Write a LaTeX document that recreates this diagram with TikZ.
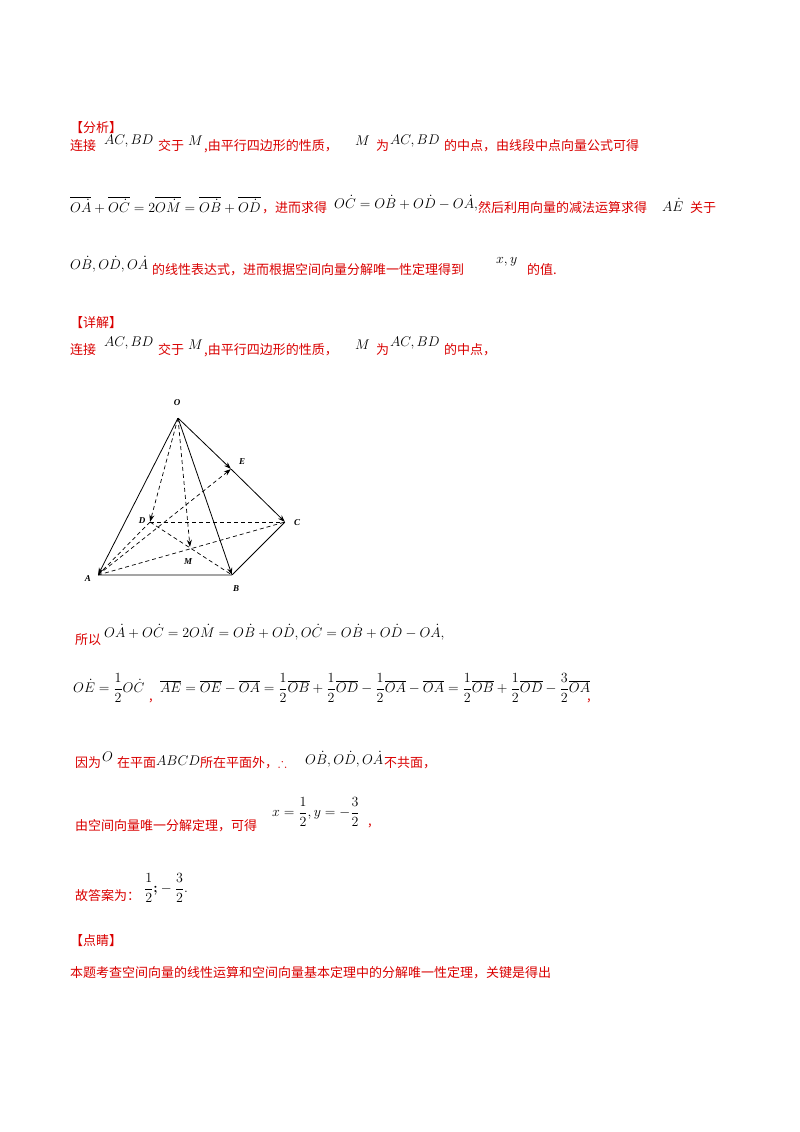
\RequirePackage{fix-cm}
\documentclass[tikz,border=0pt]{standalone}
\usepackage{amsmath,amssymb}
\usepackage{fontspec}
\setmainfont{Liberation Serif}
\newfontfamily\cjk{Noto Sans CJK SC}
\usetikzlibrary{arrows.meta}
\begin{document}
\begin{tikzpicture}[x=1pt,y=-1pt,
  t/.style={anchor=west,inner sep=0pt,text=red!85!black,font=\cjk\fontsize{13}{15}\selectfont},
  m/.style={anchor=west,inner sep=0pt,font=\fontsize{14}{16}\selectfont},
  lab/.style={font=\bfseries\itshape\fontsize{9}{10}\selectfont,inner sep=1pt},
  pt/.style={circle,inner sep=0pt,minimum size=0pt},
  sl/.style={line width=0.8pt},
  dl/.style={line width=0.7pt,dash pattern=on 4pt off 3pt},
  ar/.style={-{Stealth[length=7pt,width=5pt]}}]
\useasboundingbox (0,0) rectangle (800,1132);
\newcommand{\dv}[2]{#1\dot{#2}}
% text
\node[t] (h1) at (70,128) {【分析】};
\node[t] (l1a) at (70,146) {连接};
\node[m] (l1b) at (104,141) {$AC,BD$};
\node[t] (l1c) at (158,146) {交于};
\node[m] (l1d) at (188,141) {$M$};
\node[t] (l1e) at (204,146) {,由平行四边形的性质，};
\node[m] (l1f) at (355,141) {$M$};
\node[t] (l1g) at (376,146) {为};
\node[m] (l1h) at (390,141) {$AC,BD$};
\node[t] (l1i) at (444,146) {的中点，由线段中点向量公式可得};
\node[m] (l2a) at (70,205) {$\overline{\dv OA}+\overline{\dv OC}=2\overline{\dv OM}=\overline{\dv OB}+\overline{\dv OD}$};
\node[t] (l2b) at (262,208) {，进而求得};
\node[m] (l2c) at (334,203) {$\dv OC=\dv OB+\dv OD-\dv OA,$};
\node[t] (l2d) at (478,208) {然后利用向量的减法运算求得};
\node[m] (l2e) at (662,205) {$\dv AE$};
\node[t] (l2f) at (690,208) {关于};
\node[m] (l3a) at (70,264) {$\dv OB,\dv OD,\dv OA$};
\node[t] (l3b) at (152,270) {的线性表达式，进而根据空间向量分解唯一性定理得到};
\node[m] (l3c) at (496,262) {$x,y$};
\node[t] (l3d) at (527,270) {的值.};
\node[t] (h2) at (70,323) {【详解】};
\node[t] (l4a) at (70,350) {连接};
\node[m] (l4b) at (104,343) {$AC,BD$};
\node[t] (l4c) at (158,350) {交于};
\node[m] (l4d) at (188,345) {$M$};
\node[t] (l4e) at (204,350) {,由平行四边形的性质，};
\node[m] (l4f) at (355,345) {$M$};
\node[t] (l4g) at (376,350) {为};
\node[m] (l4h) at (390,343) {$AC,BD$};
\node[t] (l4i) at (444,350) {的中点，};
\node[t] (l5a) at (75,640) {所以};
\node[m] (l5b) at (104,632) {$\dv OA+\dv OC=2\dv OM=\dv OB+\dv OD,\dv OC=\dv OB+\dv OD-\dv OA,$};
\node[m] (l6a) at (73,688) {$\dv OE=\dfrac12\dv OC$};
\node[t] (l6b) at (149,701) {,};
\node[m] (l6c) at (160,688) {$\overline{AE}=\overline{OE}-\overline{OA}=\dfrac12\overline{OB}+\dfrac12\overline{OD}-\dfrac12\overline{OA}-\overline{OA}=\dfrac12\overline{OB}+\dfrac12\overline{OD}-\dfrac32\overline{OA}$};
\node[t] (l6d) at (587,701) {,};
\node[t] (l7a) at (75,763) {因为};
\node[m] (l7b) at (102,757) {$O$};
\node[t] (l7c) at (117,763) {在平面};
\node[m] (l7d) at (156,761) {$ABCD$};
\node[t] (l7e) at (200,763) {所在平面外，$\therefore$};
\node[m] (l7f) at (305,759) {$\dv OB,\dv OD,\dv OA$};
\node[t] (l7g) at (384,763) {不共面，};
\node[t] (l8a) at (75,826) {由空间向量唯一分解定理，可得};
\node[m] (l8b) at (272,812) {$x=\dfrac12,y=-\dfrac32$};
\node[t] (l8c) at (368,826) {,};
\node[t] (l9a) at (75,896) {故答案为：};
\node[m] (l9b) at (144,888) {$\dfrac12\boldsymbol{;}-\dfrac32.$};
\node[t] (h3) at (70,941) {【点睛】};
\node[t] (l10) at (70,973) {本题考查空间向量的线性运算和空间向量基本定理中的分解唯一性定理，关键是得出};
% figure
\node[pt] (O) at (178,418) {};
\node[pt] (E) at (231,469) {};
\node[pt] (C) at (285,522) {};
\node[pt] (D) at (150,522) {};
\node[pt] (M) at (190,547) {};
\node[pt] (A) at (98,575) {};
\node[pt] (B) at (232,575) {};
\draw[sl,ar] (O) -- (A);
\draw[sl,ar] (O) -- (B);
\draw[sl,ar] (O) -- (E);
\draw[sl,ar] (E) -- (C);
\draw[sl] (A) -- (B) -- (C);
\draw[dl,ar] (O) -- (D);
\draw[dl,ar] (O) -- (M);
\draw[dl,ar] (A) -- (E);
\draw[dl] (D) -- (C);
\draw[dl] (D) -- (B);
\draw[dl] (A) -- (C);
\draw[dl] (A) -- (D);
\node[lab] (lO) at (177,403) {O};
\node[lab] (lE) at (242,462) {E};
\node[lab] (lC) at (297,523) {C};
\node[lab] (lD) at (142,521) {D};
\node[lab] (lM) at (188,562) {M};
\node[lab] (lA) at (88,579) {A};
\node[lab] (lB) at (236,589) {B};
\end{tikzpicture}
\end{document}
